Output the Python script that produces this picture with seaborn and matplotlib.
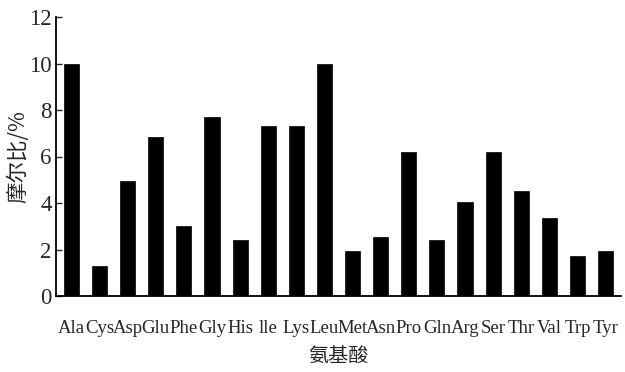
import matplotlib
matplotlib.use("Agg")
import matplotlib.pyplot as plt
import seaborn as sns
import pandas as pd

# 氨基酸摩尔比数据
amino = ['Ala', 'Cys', 'Asp', 'Glu', 'Phe', 'Gly', 'His', 'Ile', 'Lys', 'Leu',
         'Met', 'Asn', 'Pro', 'Gln', 'Arg', 'Ser', 'Thr', 'Val', 'Trp', 'Tyr']
mole_ratio = [10.0, 1.3, 4.95, 6.85, 3.0, 7.7, 2.4, 7.3, 7.3, 10.0,
              1.95, 2.55, 6.2, 2.4, 4.05, 6.2, 4.5, 3.35, 1.7, 1.95]
tick_text = ['Ala', 'Cys', 'Asp', 'Glu', 'Phe', 'Gly', 'His', 'lle', 'Lys', 'Leu',
             'Met', 'Asn', 'Pro', 'Gln', 'Arg', 'Ser', 'Thr', 'Val', 'Trp', 'Tyr']
y_ticks = [0, 2, 4, 6, 8, 10, 12]

df = pd.DataFrame({'amino': amino, 'ratio': mole_ratio})

sns.set_style("white")
plt.rcParams['font.family'] = ['Liberation Serif', 'Noto Sans CJK SC', 'DejaVu Sans']

fig = plt.figure(figsize=(6.25, 3.72), dpi=100)
ax = fig.add_axes([56 / 625, 1 - 296 / 372, (621 - 56) / 625, (296 - 17) / 372])

sns.barplot(data=df, x='amino', y='ratio', color='black', width=0.54,
            edgecolor='black', linewidth=0.5, ax=ax)

ax.set_xlim(-0.55, 19.55)
ax.set_ylim(0, 12)
ax.set_yticks(y_ticks)
ax.set_yticklabels([str(v) for v in y_ticks], fontsize=16.5)
ax.set_xticks(range(len(amino)))
ax.set_xticklabels(tick_text, fontsize=13.5)

for s in ['top', 'right']:
    ax.spines[s].set_visible(False)
for s in ['left', 'bottom']:
    ax.spines[s].set_color('black')
    ax.spines[s].set_linewidth(1.3)

ax.tick_params(axis='y', direction='in', length=4, width=1, pad=3, left=True)
ax.tick_params(axis='x', length=0, pad=17)

ax.set_xlabel('氨基酸', fontsize=14.5, family=['Noto Sans CJK SC'], labelpad=7)
ax.set_ylabel('摩尔比/%', fontsize=15.5, family=['Noto Sans CJK SC', 'DejaVu Sans'], labelpad=0)

plt.savefig('out.png', dpi=100)
